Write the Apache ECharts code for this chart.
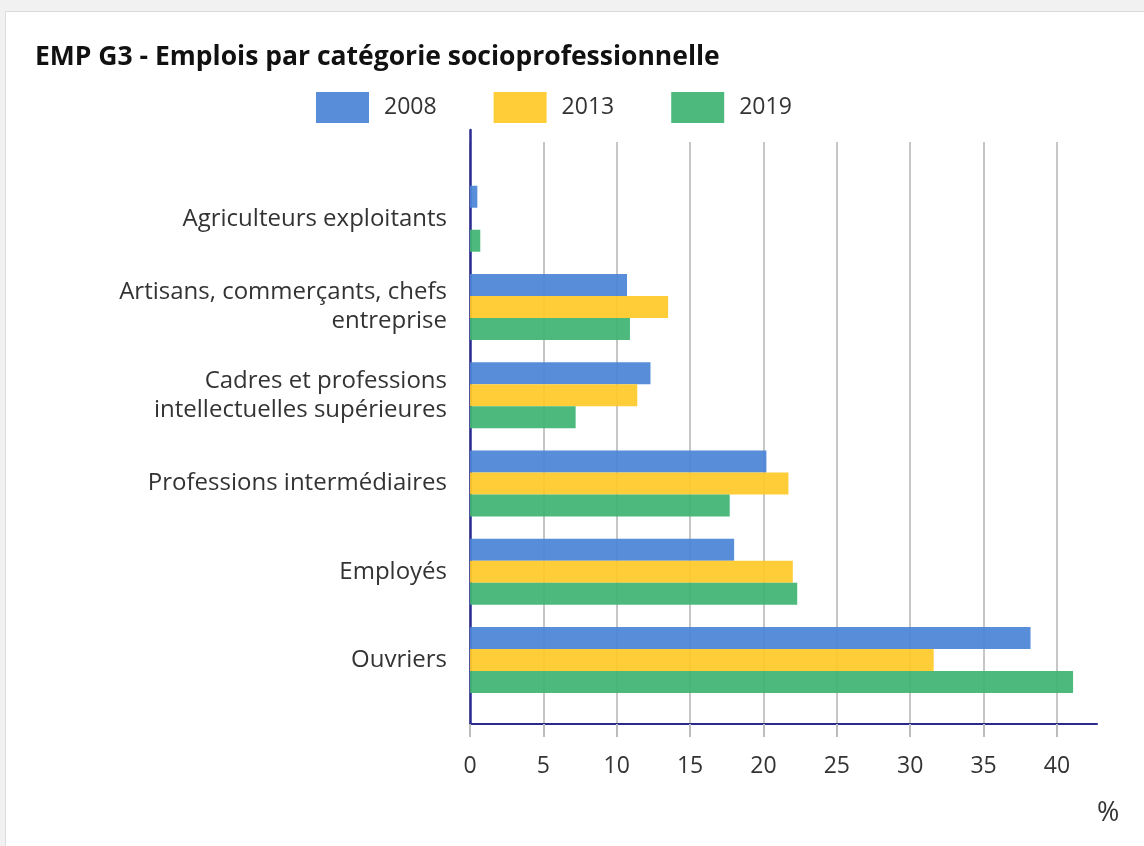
<!DOCTYPE html>
<html>
<head>
<meta charset="utf-8">
<script src="https://cdn.jsdelivr.net/npm/echarts@6/dist/echarts.min.js"></script>
<style>
  html, body { margin: 0; padding: 0; width: 1144px; height: 846px; background: #f1f1f1; overflow: hidden; }
  #card { position: absolute; left: 5px; top: 11px; width: 1139px; height: 835px; background: #fff; border-top: 1px solid #dcdcdc; border-left: 1px solid #dcdcdc; box-sizing: border-box; }
  #chart { position: absolute; left: 0; top: 0; width: 1144px; height: 846px; }
</style>
</head>
<body>
<div id="card"></div>
<div id="chart"></div>
<script>
const categories = [
  'Agriculteurs exploitants',
  'Artisans, commerçants, chefs\nentreprise',
  'Cadres et professions\nintellectuelles supérieures',
  'Professions intermédiaires',
  'Employés',
  'Ouvriers'
];
const years = ['2008', '2013', '2019'];
const values2008 = [0.5, 10.7, 12.3, 20.2, 18.0, 38.2];
const values2013 = [null, 13.5, 11.4, 21.7, 22.0, 31.6];
const values2019 = [0.7, 10.9, 7.2, 17.7, 22.3, 41.1];
const xTicks = [0, 5, 10, 15, 20, 25, 30, 35, 40];
const xMax = 42.73;

const colors = ['#4a84d6', '#ffc928', '#3fb472'];
const FONT = '"Open Sans", "Noto Sans", sans-serif';

const chart = echarts.init(document.getElementById('chart'), null, { renderer: 'canvas' });

const option = {
  animation: false,
  backgroundColor: 'transparent',
  title: {
    text: 'EMP G3 - Emplois par catégorie socioprofessionnelle',
    left: 35, top: 44, padding: 0,
    textStyle: { fontFamily: FONT, fontWeight: 'bold', fontSize: 26.5, color: '#111' }
  },
  legend: {
    data: years,
    left: 316, top: 92, padding: 0,
    itemWidth: 53, itemHeight: 31, itemGap: 57,
    icon: 'rect',
    textStyle: { fontFamily: FONT, fontSize: 23, color: '#333', padding: [3, 0, 0, 10] }
  },
  grid: [
    { left: 470, right: 47, top: 174.6, bottom: 141.8 },   // bars
    { left: 470, right: 47, top: 142, bottom: 122 },       // gridlines + x axis
    { left: 470, right: 47, top: 130, bottom: 122 }        // y axis line
  ],
  xAxis: [
    { gridIndex: 0, type: 'value', min: 0, max: xMax, show: false },
    {
      gridIndex: 1, type: 'value', min: 0, max: xMax,
      axisLine: { show: true, onZero: false, lineStyle: { color: '#2b2a8f', width: 2 } },
      axisTick: { show: true, inside: false, length: 13, customValues: xTicks, lineStyle: { color: '#bdbdbd', width: 2 } },
      splitLine: { show: true, lineStyle: { color: '#c6c6c6', width: 2 } },
      axisLabel: { customValues: xTicks, margin: 31, fontFamily: FONT, fontSize: 23, color: '#333' },
      name: '%', nameLocation: 'end', nameGap: 0,
      nameTextStyle: { fontFamily: FONT, fontSize: 27, color: '#333', verticalAlign: 'top', padding: [76, 0, 0, 0] }
    },
    { gridIndex: 2, type: 'value', min: 0, max: xMax, show: false }
  ],
  yAxis: [
    {
      gridIndex: 0, type: 'category', data: categories, inverse: true,
      axisLine: { show: false }, axisTick: { show: false },
      axisLabel: {
        margin: 23, fontFamily: FONT, fontSize: 24, color: '#333', lineHeight: 29, align: 'right'
      }
    },
    { gridIndex: 1, type: 'value', min: 0, max: 1, show: false },
    {
      gridIndex: 2, type: 'value', min: 0, max: 1,
      axisLine: { show: true, lineStyle: { color: '#2b2a8f', width: 2.5 } },
      axisTick: { show: false }, axisLabel: { show: false }, splitLine: { show: false }
    }
  ],
  series: [
    { name: years[0], type: 'bar', xAxisIndex: 0, yAxisIndex: 0, data: values2008, barWidth: 22, barGap: '0%',
      itemStyle: { color: colors[0], opacity: 0.93 } },
    { name: years[1], type: 'bar', xAxisIndex: 0, yAxisIndex: 0, data: values2013, barWidth: 22, barGap: '0%',
      itemStyle: { color: colors[1], opacity: 0.93 } },
    { name: years[2], type: 'bar', xAxisIndex: 0, yAxisIndex: 0, data: values2019, barWidth: 22, barGap: '0%',
      itemStyle: { color: colors[2], opacity: 0.93 } }
  ]
};
chart.setOption(option);
</script>
</body>
</html>
